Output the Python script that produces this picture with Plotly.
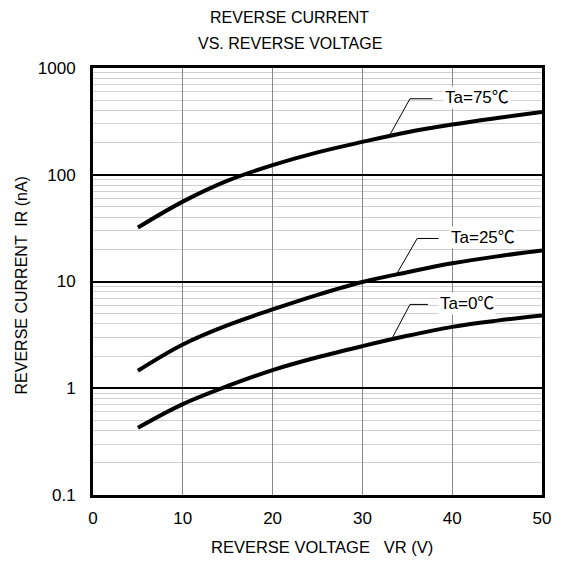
import math
import plotly.graph_objects as go

voltage = [5, 10, 15, 20, 25, 30, 35, 40, 45, 50]
ir_75 = [32, 56, 88, 123, 162, 203, 250, 295, 340, 388]
ir_25 = [1.46, 2.57, 3.9, 5.47, 7.5, 9.9, 12.2, 14.8, 17.2, 19.5]
ir_0 = [0.426, 0.71, 1.05, 1.48, 1.95, 2.48, 3.1, 3.76, 4.3, 4.8]

labels = ["Ta=75℃", "Ta=25℃", "Ta=0℃"]
# leader lines: start on curve, elbow, horizontal end, text left x (data units)
leaders = [
    dict(x0=33.1, y0=240, x1=35.3, y1=515, x2=37.8, tx=39.0),
    dict(x0=33.85, y0=11.9, x1=36.1, y1=25.3, x2=38.5, tx=39.6),
    dict(x0=33.3, y0=2.93, x1=35.3, y1=6.1, x2=37.3, tx=38.4),
]

y_ticks = [0.1, 1, 10, 100, 1000]
y_ticktext = ["0.1", "1", "10", "100", "1000"]
x_ticks = [0, 10, 20, 30, 40, 50]

FONT = "Liberation Sans, Arial, Noto Sans CJK JP, sans-serif"

fig = go.Figure()
for ys in (ir_75, ir_25, ir_0):
    fig.add_trace(go.Scatter(x=voltage, y=ys, mode="lines",
                             line=dict(color="black", width=4, shape="spline"),
                             showlegend=False, hoverinfo="skip"))

for lab, ld in zip(labels, leaders):
    fig.add_trace(go.Scatter(x=[ld["x0"], ld["x1"], ld["x2"]],
                             y=[ld["y0"], ld["y1"], ld["y1"]], mode="lines",
                             line=dict(color="black", width=1),
                             showlegend=False, hoverinfo="skip"))
    fig.add_annotation(x=ld["tx"], y=math.log10(ld["y1"]), xref="x", yref="y",
                       text=lab, showarrow=False, xanchor="left", yanchor="middle",
                       bgcolor="white", font=dict(size=17, color="black", family=FONT),
                       borderpad=1, yshift=1)

# titles placed as annotations
fig.add_annotation(text="REVERSE CURRENT", x=0.438, y=1.119, xref="paper", yref="paper",
                   showarrow=False, xanchor="center", yanchor="middle",
                   font=dict(size=16, family=FONT, color="black"))
fig.add_annotation(text="VS. REVERSE VOLTAGE", x=0.438, y=1.0585, xref="paper", yref="paper",
                   showarrow=False, xanchor="center", yanchor="middle",
                   font=dict(size=16, family=FONT, color="black"))
fig.add_annotation(text="REVERSE VOLTAGE   VR (V)", x=(324 - 93) / 452, y=-(547 - 495) / 427,
                   xref="paper", yref="paper", showarrow=False, xanchor="center",
                   yanchor="middle", font=dict(size=16.5, family=FONT, color="black"))
fig.add_annotation(text="REVERSE CURRENT  IR (nA)", x=-(93 - 21) / 452, y=(495 - 285) / 427,
                   xref="paper", yref="paper", showarrow=False, xanchor="center",
                   yanchor="middle", textangle=-90,
                   font=dict(size=16, family=FONT, color="black"))

minor_vals = [m * 10 ** e for e in range(-1, 3) for m in range(2, 10)]

fig.update_layout(
    width=555, height=562,
    margin=dict(l=85, r=18, t=60, b=75),
    paper_bgcolor="white", plot_bgcolor="white",
    font=dict(family=FONT, size=16, color="black"),
    xaxis=dict(range=[0, 50], tickvals=x_ticks, showgrid=True, gridcolor="#888888", gridwidth=1,
               showline=True, linecolor="black", linewidth=3, mirror=True, zeroline=False,
               ticks="", ticklabelstandoff=6, tickfont=dict(size=17)),
    yaxis=dict(type="log", range=[-1, 3], tickvals=y_ticks, ticktext=y_ticktext,
               showgrid=True, gridcolor="black", gridwidth=1.5,
               showline=True, linecolor="black", linewidth=3, mirror=True, zeroline=False,
               ticks="", ticklabelstandoff=11, tickfont=dict(size=17),
               minor=dict(tickmode="array", tickvals=minor_vals, showgrid=True,
                          gridcolor="#d0d0d0", gridwidth=1, ticks="")),
)

fig.write_html("out.html")
